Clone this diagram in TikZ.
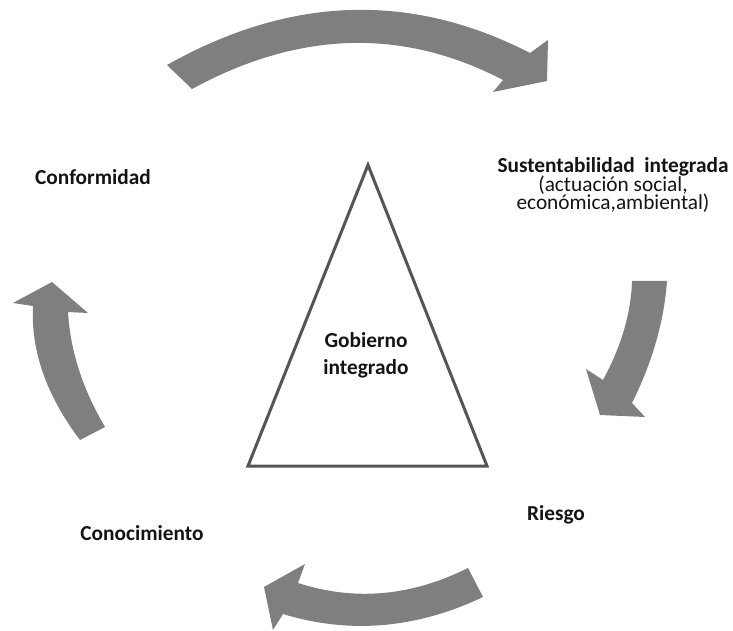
\documentclass[tikz,border=0pt]{standalone}
\usepackage{fontspec}
\setmainfont{Carlito}
\definecolor{arrowgray}{RGB}{127,127,127}
\definecolor{trigray}{RGB}{85,85,85}
\definecolor{txt}{RGB}{20,20,20}
\newcommand\mytightlines{\lineskiplimit=-30pt\relax\lineskip=0pt\relax}
\tikzset{
  bigarrow/.style={fill=arrowgray, draw=none},
  tri/.style={draw=trigray, line width=2.25pt},
  lbl/.style={inner sep=0pt, text=txt, font=\fontsize{16}{19}\selectfont\bfseries},
}
\begin{document}
\begin{tikzpicture}[x=0.75pt,y=-0.75pt]
\useasboundingbox (0,0) rectangle (733,631);
% curved arrows
\fill[bigarrow] (167,65) .. controls (290,-4.3) and (411,-8.3) .. (530,53)
  -- (548,40) -- (547,81) -- (493,92) -- (503,80)
  .. controls (402.7,27.7) and (299,30.7) .. (192,89) -- cycle;
\fill[bigarrow] (632,281) -- (667,281) .. controls (664,321.7) and (652.3,362.3) .. (632,403)
  -- (645,417) -- (600,415) -- (586,369) -- (603,380)
  .. controls (621.3,346.3) and (631,313.3) .. (632,281) -- cycle;
\fill[bigarrow] (468,568) .. controls (411.3,596.3) and (354.7,601.3) .. (298,583)
  -- (305,564) -- (264,587) -- (273,630) -- (283,614)
  .. controls (349.7,634.3) and (416.3,628.7) .. (483,597) -- cycle;
\fill[bigarrow] (52,282) -- (88,313) -- (68,312)
  .. controls (70.3,351) and (82.7,389.3) .. (105,427) -- (80,440)
  .. controls (46.3,395.3) and (30.7,350.7) .. (33,306) -- (13,303) -- cycle;
% triangle
\coordinate (apex) at (368,165);
\coordinate (br) at (487,466);
\coordinate (bl) at (248,466);
\draw[tri] (apex) -- (br) -- (bl) -- cycle;
% labels
\node[lbl, align=center] (gob) at (366,355) {Gobierno\\[1.25pt]integrado};
\node[lbl, anchor=base] (conf) at (93,185) {Conformidad};
\node[lbl, anchor=base] (cono) at (142,540.7) {Conocimiento};
\node[lbl, anchor=base] (ries) at (556,520) {Riesgo};
\node[lbl, align=center, font=\fontsize{16}{13.9}\selectfont\mytightlines] (sust) at (613,185)
  {\bfseries Sustentabilidad\ \ integrada\\ (actuación social,\\ económica,ambiental)};
\end{tikzpicture}
\end{document}
